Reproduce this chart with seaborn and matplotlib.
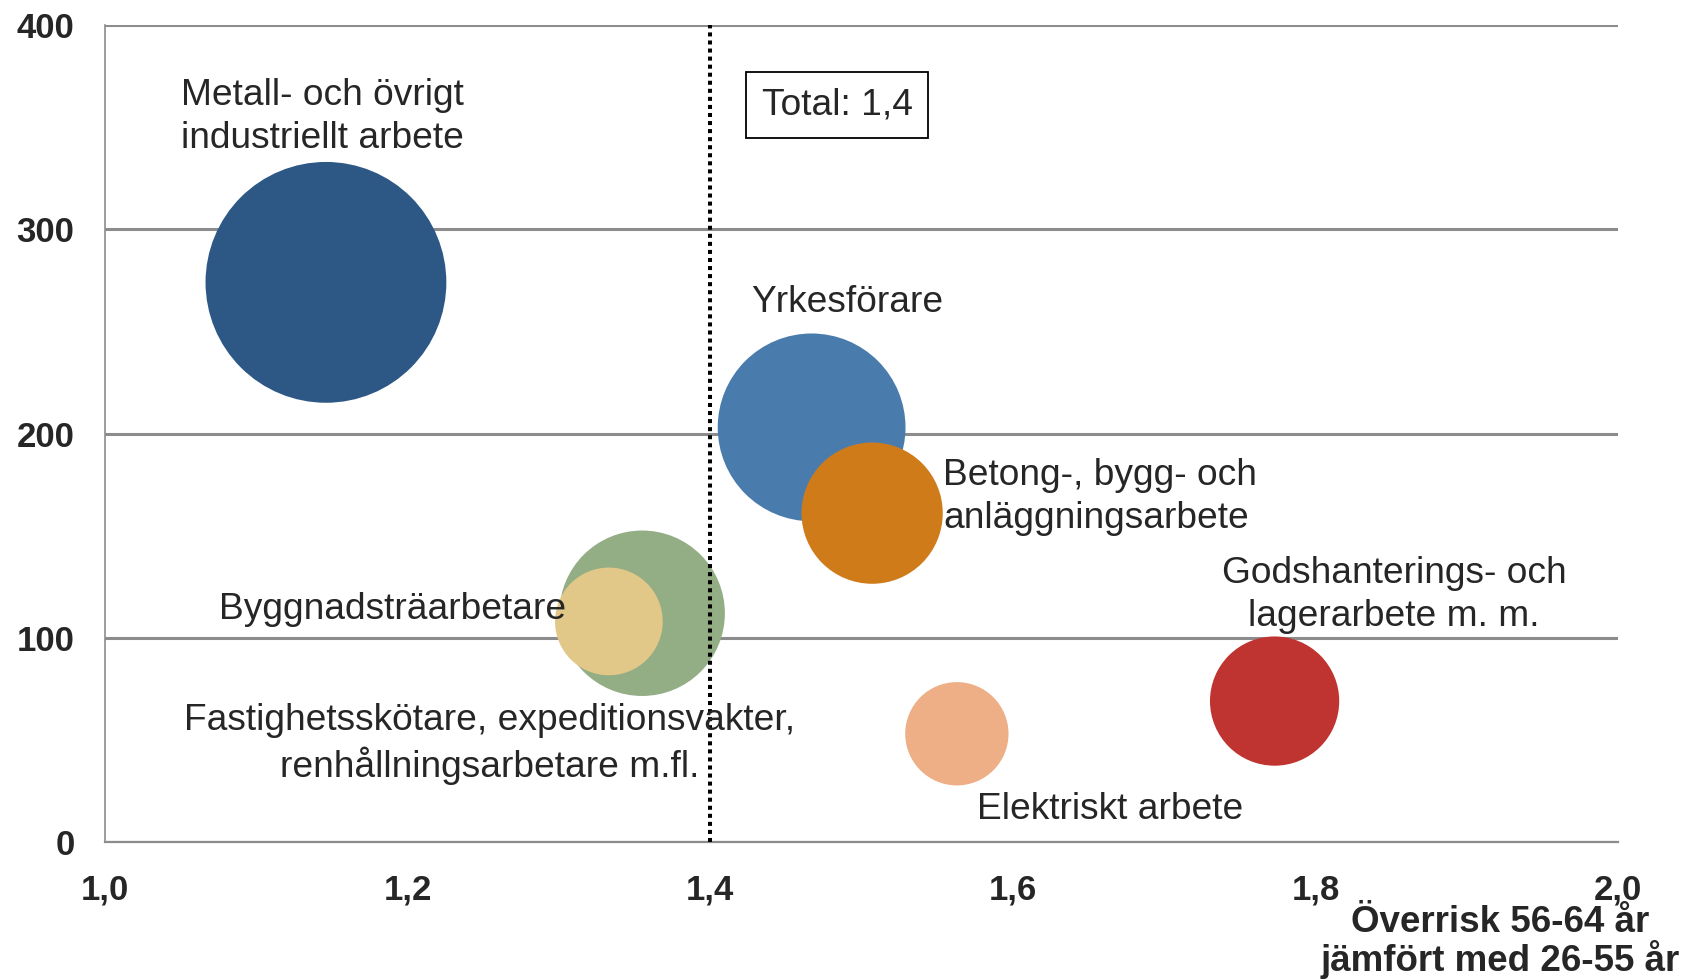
import numpy as np
import pandas as pd
import seaborn as sns
import matplotlib.pyplot as plt
import matplotlib.ticker as mticker

# data
groups = ['Metall- och övrigt industriellt arbete', 'Yrkesförare',
          'Betong-, bygg- och anläggningsarbete',
          'Fastighetsskötare, expeditionsvakter, renhållningsarbetare m.fl.',
          'Byggnadsträarbetare', 'Elektriskt arbete',
          'Godshanterings- och lagerarbete m. m.']
overrisk = [1.146, 1.467, 1.507, 1.355, 1.333, 1.563, 1.773]
cases = [274, 203, 161, 112, 108, 53, 69]
bubble = [125, 76, 43, 59, 25, 23, 36]
colors = ['#2d5886', '#4a7bad', '#d07b1a', '#93ad85', '#e2c888', '#eeae86', '#bf3330']

label_text = ['Metall- och övrigt\nindustriellt arbete', 'Yrkesförare',
              'Betong-, bygg- och\nanläggningsarbete',
              'Fastighetsskötare, expeditionsvakter,\nrenhållningsarbetare m.fl.',
              'Byggnadsträarbetare', 'Elektriskt arbete',
              'Godshanterings- och\nlagerarbete m. m.']
label_x = [1.050, 1.427, 1.554, 1.254, 1.075, 1.576, 1.852]
label_y = [355, 264, 169, 48, 114, 16, 121]
label_ha = ['left', 'left', 'left', 'center', 'left', 'left', 'center']

x_ticks = [1.0, 1.2, 1.4, 1.6, 1.8, 2.0]
x_tick_labels = ['1,0', '1,2', '1,4', '1,6', '1,8', '2,0']
y_ticks = [0, 100, 200, 300, 400]
total = 1.4

df = pd.DataFrame({'grupp': groups, 'x': overrisk, 'y': cases, 'n': bubble})

sns.set_style('white')
plt.rcParams['font.family'] = ['Liberation Sans', 'DejaVu Sans']

fig = plt.figure(figsize=(16.86, 9.8), dpi=100)
ax = fig.add_axes([0.0623, 0.1408, 0.8974, 0.8337])

unit = 240.5
sns.scatterplot(data=df, x='x', y='y', hue='grupp', palette=dict(zip(groups, colors)),
                size='n', sizes=(0, unit * max(bubble)), size_norm=(0, max(bubble)),
                linewidth=0, alpha=1, legend=False, ax=ax, zorder=3)

ax.set_xlim(1.0, 2.0)
ax.set_ylim(0, 400)
ax.xaxis.set_major_locator(mticker.FixedLocator(x_ticks))
ax.set_xticklabels(x_tick_labels)
ax.set_yticks(y_ticks)
ax.set_xlabel('')
ax.set_ylabel('')

ax.yaxis.grid(True, color='#8c8c8c', lw=2.2)
ax.set_axisbelow(True)
for s in ['top', 'right']:
    ax.spines[s].set_visible(False)
ax.spines['left'].set_color('#8c8c8c')
ax.spines['left'].set_linewidth(1.2)
ax.spines['bottom'].set_color('#8c8c8c')
ax.spines['bottom'].set_linewidth(1.6)
ax.tick_params(axis='both', direction='out', color='#8c8c8c', width=1.2, length=8,
               labelsize=25, pad=14)
ax.tick_params(axis='x', pad=15)
for t in ax.get_xticklabels() + ax.get_yticklabels():
    t.set_fontweight('bold')
    t.set_family(['Liberation Sans Narrow', 'Liberation Sans'])

ax.axvline(total, color='black', ls=(0, (1, 1)), lw=2.9, zorder=4)

for txt, tx, ty, ha in zip(label_text, label_x, label_y, label_ha):
    ax.text(tx, ty, txt, ha=ha, va='center', fontsize=26.7, linespacing=1.3, zorder=5)

ax.text(1.484, 361, 'Total: 1,4', ha='center', va='center', fontsize=26.7, zorder=5,
        bbox=dict(boxstyle='square,pad=0.42', fc='white', ec='black', lw=1.3))

fig.text(0.890, 0.039, 'Överrisk 56-64 år\njämfört med 26-55 år', ha='center', va='center',
         fontsize=26.5, fontweight='bold', linespacing=1.0)

fig.savefig('out.png', dpi=100)
